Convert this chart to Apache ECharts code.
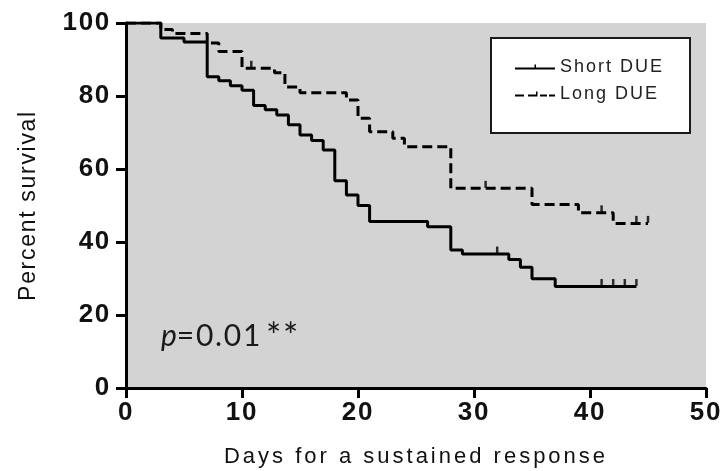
<!DOCTYPE html>
<html>
<head>
<meta charset="utf-8">
<title>Percent survival</title>
<script src="https://cdn.jsdelivr.net/npm/echarts@6/dist/echarts.min.js"></script>
<style>
  html, body { margin: 0; padding: 0; background: #fff; }
  #chart { width: 721px; height: 471px; }
</style>
</head>
<body>
<div id="chart"></div>
<script>
// Kaplan-Meier steps: [day, percent surviving] at each event
const shortDUE = [
  [0, 100], [3, 95.9], [5, 94.8], [7, 85.3], [8, 84.2], [9, 82.8], [10, 81.6],
  [11, 77.4], [12, 76.2], [13, 74.8], [14, 72.1], [15, 69.3], [16, 67.8],
  [17, 65.2], [18, 56.8], [19, 52.9], [20, 50.0], [21, 45.6], [26, 44.2],
  [28, 37.8], [29, 36.7], [33, 35.2], [34, 33.1], [35, 29.9], [37, 27.8],
  [44, 27.8]
];
const longDUE = [
  [0, 100], [3, 98.2], [4, 97.1], [7, 94.5], [8, 92.2], [10, 87.6],
  [12.8, 86.4], [13.7, 82.5], [15, 80.9], [19, 78.9], [20, 73.9], [21, 70.2],
  [23, 68.4], [24, 66.1], [28, 54.7], [35, 50.3], [39, 48.0], [42, 45.1],
  [45, 45.1]
];
// Censored observations (days)
const shortCensored = [32, 41, 42, 43, 44];
const longCensored = [10.8, 31, 41, 44, 45];

const xTicks = { min: 0, max: 50, step: 10 };
const yTicks = { min: 0, max: 100, step: 20 };
const seriesNames = ['Short DUE', 'Long DUE'];
const pValue = { symbol: 'p', value: '=0.01', stars: '**' };

// survival value of a step curve at a given day
function survivalAt(curve, day) {
  let v = curve[0][1];
  for (const [d, s] of curve) { if (d <= day) v = s; }
  return v;
}
const censorPoints = (curve, days) => days.map(d => [d, survivalAt(curve, d)]);

// Prism-style tracking on the titles and legend entries
const TRACKING = {
  'Days for a sustained response': '3px',
  'Percent survival': '1.7px',
  'Short DUE': '2px',
  'Long DUE': '2px'
};
const baseFillText = CanvasRenderingContext2D.prototype.fillText;
CanvasRenderingContext2D.prototype.fillText = function (text) {
  const sp = TRACKING[text];
  if (sp && 'letterSpacing' in this) {
    const prev = this.letterSpacing;
    this.letterSpacing = sp;
    const r = baseFillText.apply(this, arguments);
    this.letterSpacing = prev;
    return r;
  }
  return baseFillText.apply(this, arguments);
};

const FONT = '"Liberation Sans", Arial, sans-serif';
const NOTE_FONT = 'Lato, "Open Sans", sans-serif';
const ink = '#111';

const chart = echarts.init(document.getElementById('chart'), null, { renderer: 'canvas' });

const axisCommon = {
  type: 'value',
  nameLocation: 'middle',
  splitLine: { show: false },
  axisLine: { show: true, onZero: false, lineStyle: { color: '#000', width: 3 } },
  axisTick: { show: true, length: 10, lineStyle: { color: '#000', width: 3 } },
  axisLabel: { color: ink, fontSize: 26, fontWeight: 'bold', fontFamily: FONT }
};

chart.setOption({
  animation: false,
  grid: {
    left: 126, right: 15, top: 23, bottom: 83,
    outerBoundsMode: 'none', containLabel: false,
    show: true, backgroundColor: '#d3d3d3', borderWidth: 0
  },
  xAxis: Object.assign({}, axisCommon, {
    min: xTicks.min, max: xTicks.max, interval: xTicks.step,
    name: 'Days for a sustained response',
    nameGap: 58,
    nameTextStyle: { color: ink, fontSize: 22, fontFamily: FONT },
    axisLabel: Object.assign({}, axisCommon.axisLabel, { margin: 12 })
  }),
  yAxis: Object.assign({}, axisCommon, {
    min: yTicks.min, max: yTicks.max, interval: yTicks.step,
    name: 'Percent survival',
    nameGap: 86,
    nameTextStyle: { color: ink, fontSize: 23, fontFamily: FONT },
    axisLabel: Object.assign({}, axisCommon.axisLabel, { margin: 15 })
  }),
  legend: {
    orient: 'vertical',
    left: 515, top: 58,
    padding: 0,
    itemWidth: 40, itemHeight: 5, itemGap: 9,
    textStyle: { color: '#222', fontSize: 18, fontFamily: FONT },
    z: 6,
    data: [
      { name: seriesNames[0], icon: 'path://M0,3H40V5H0Z M19.5,0H21V3H19.5Z' },
      { name: seriesNames[1], icon: 'path://M0,3H9V5H0Z M13,3H21V5H13Z M21,0H22.5V5H21Z M25,3H32V5H25Z M34,3H40V5H34Z' }
    ]
  },
  graphic: [
    {
      type: 'rect', z: 5,
      shape: { x: 491, y: 38, width: 199, height: 95 },
      style: { fill: '#fff', stroke: '#1a1a1a', lineWidth: 2 }
    },
    {
      type: 'text', z: 5,
      x: 161, y: 336,
      style: {
        text: '{i|' + pValue.symbol + '}{v|' + pValue.value + '}',
        fill: '#1a1a1a',
        font: '30px ' + NOTE_FONT,
        verticalAlign: 'middle',
        rich: {
          i: { fontStyle: 'italic', fontSize: 30, fontFamily: NOTE_FONT, fill: '#1a1a1a' },
          v: { fontSize: 30, fontFamily: NOTE_FONT, fill: '#1a1a1a' }
        }
      }
    },
    {
      type: 'text', z: 5,
      x: 266, y: 337,
      style: {
        text: pValue.stars,
        fill: '#1a1a1a',
        font: '36px ' + NOTE_FONT,
        verticalAlign: 'middle'
      }
    }
  ],
  series: [
    {
      name: seriesNames[0], type: 'line', step: 'end', data: shortDUE,
      symbol: 'none', color: '#000',
      lineStyle: { color: '#000', width: 3, type: 'solid' }, z: 3
    },
    {
      name: seriesNames[1], type: 'line', step: 'end', data: longDUE,
      symbol: 'none', color: '#000',
      lineStyle: { color: '#000', width: 3, type: [10, 5] }, z: 3
    },
    {
      type: 'scatter', data: censorPoints(shortDUE, shortCensored),
      symbol: 'rect', symbolSize: [2.5, 7], symbolOffset: [0, -4],
      itemStyle: { color: '#000' }, silent: true, z: 4
    },
    {
      type: 'scatter', data: censorPoints(longDUE, longCensored),
      symbol: 'rect', symbolSize: [2.5, 7], symbolOffset: [0, -4],
      itemStyle: { color: '#000' }, silent: true, z: 4
    }
  ]
});
</script>
</body>
</html>
